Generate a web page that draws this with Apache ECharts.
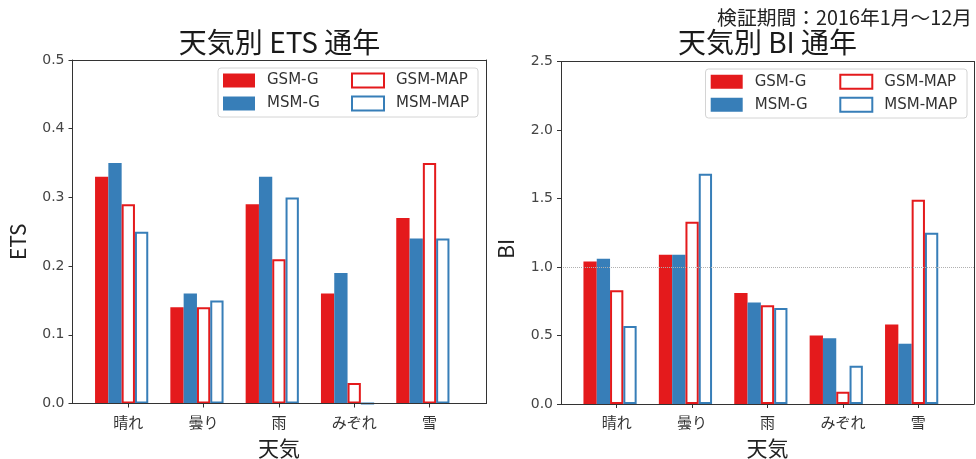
<!DOCTYPE html>
<html>
<head>
<meta charset="utf-8">
<script src="https://cdn.jsdelivr.net/npm/echarts@6/dist/echarts.min.js"></script>
<style>
  html, body { margin: 0; padding: 0; background: #fff; }
  #chart { width: 976px; height: 459px; }
</style>
</head>
<body>
<div id="chart"></div>
<script>
// Weather categories and verification scores, 2016 (Jan–Dec)
const categories = ['晴れ', '曇り', '雨', 'みぞれ', '雪'];

const etsGsmG   = [0.33, 0.14, 0.29, 0.16, 0.27];
const etsMsmG   = [0.35, 0.16, 0.33, 0.19, 0.24];
const etsGsmMap = [0.29, 0.14, 0.21, 0.03, 0.35];
const etsMsmMap = [0.25, 0.15, 0.30, 0.00, 0.24];

const biGsmG    = [1.04, 1.09, 0.81, 0.50, 0.58];
const biMsmG    = [1.06, 1.09, 0.74, 0.48, 0.44];
const biGsmMap  = [0.83, 1.33, 0.72, 0.09, 1.49];
const biMsmMap  = [0.57, 1.68, 0.70, 0.28, 1.25];

const etsTicks = [0.0, 0.1, 0.2, 0.3, 0.4, 0.5];
const biTicks  = [0.0, 0.5, 1.0, 1.5, 2.0, 2.5];
const biPerfect = 1.0;

const RED = '#e41a1c';
const BLUE = '#377eb8';
const INK = '#333';
const FONT = '"Noto Sans CJK JP", "Noto Sans", sans-serif';
const LATIN = '"DejaVu Sans", "Noto Sans CJK JP", sans-serif';
const BAR_W = 13.3;

const chart = echarts.init(document.getElementById('chart'), null, { renderer: 'canvas' });

// Each panel: an outer frame grid (spines + y axis) and an inner grid holding the bars
const panels = [
  {
    title: '天気別 ETS 通年', yName: 'ETS', ticks: etsTicks, namePad: 20,
    frame: { left: 72.5, top: 60, width: 414, height: 343.5 },
    inner: { left: 90.65, top: 60, width: 376.5, height: 343.5 },
    values: [etsGsmG, etsMsmG, etsGsmMap, etsMsmMap],
    legend: { box: [218, 68, 260, 49], col1: 223, col2: 351, top: 72.5 }
  },
  {
    title: '天気別 BI 通年', yName: 'BI', ticks: biTicks, namePad: 32,
    frame: { left: 561, top: 61.5, width: 413, height: 342.5 },
    inner: { left: 579, top: 61.5, width: 377, height: 342.5 },
    values: [biGsmG, biMsmG, biGsmMap, biMsmMap],
    legend: { box: [705.5, 69, 261.5, 49], col1: 710.7, col2: 839.3, top: 73.7 },
    refLine: biPerfect
  }
];

const seriesDefs = [
  { name: 'GSM-G',   style: { color: RED } },
  { name: 'MSM-G',   style: { color: BLUE } },
  { name: 'GSM-MAP', style: { color: '#fff', borderColor: RED, borderWidth: 2 } },
  { name: 'MSM-MAP', style: { color: '#fff', borderColor: BLUE, borderWidth: 2 } }
];

const grid = [], xAxis = [], yAxis = [], series = [], legend = [], graphic = [];

panels.forEach((p, k) => {
  const tMin = p.ticks[0];
  const tMax = p.ticks[p.ticks.length - 1];
  const tStep = p.ticks[1] - p.ticks[0];
  const gFrame = grid.length;
  grid.push(Object.assign({ containLabel: false, outerBoundsMode: 'none' }, p.frame));
  const gInner = grid.length;
  grid.push(Object.assign({ containLabel: false, outerBoundsMode: 'none' }, p.inner));

  const spine = { show: true, onZero: false, lineStyle: { color: INK, width: 1 } };

  // frame: bottom and top spines
  const xBottom = xAxis.length;
  xAxis.push({ gridIndex: gFrame, type: 'value', min: 0, max: 1, position: 'bottom',
    axisLine: spine, axisTick: { show: false }, axisLabel: { show: false }, splitLine: { show: false }, z: 5 });
  xAxis.push({ gridIndex: gFrame, type: 'value', min: 0, max: 1, position: 'top',
    axisLine: spine, axisTick: { show: false }, axisLabel: { show: false }, splitLine: { show: false }, z: 5 });
  // inner: category axis with ticks and labels
  const xCat = xAxis.length;
  xAxis.push({ gridIndex: gInner, type: 'category', data: categories, boundaryGap: true,
    axisLine: { show: false, onZero: false },
    axisTick: { show: true, alignWithLabel: true, length: 4, lineStyle: { color: INK } },
    axisLabel: { fontSize: 15, color: INK, margin: 11, fontFamily: FONT },
    name: '天気', nameLocation: 'middle', nameGap: 34,
    nameTextStyle: { fontSize: 21, color: '#222', fontFamily: FONT },
    splitLine: { show: false }, z: 5 });

  // frame: left y axis with ticks, right spine
  const yLeft = yAxis.length;
  yAxis.push({ gridIndex: gFrame, type: 'value', min: tMin, max: tMax, interval: tStep, position: 'left',
    axisLine: spine,
    axisTick: { show: true, length: 4, lineStyle: { color: INK } },
    axisLabel: { fontSize: 14, color: '#444', margin: 8, fontFamily: LATIN, formatter: v => v.toFixed(1) },
    splitLine: { show: false },
    name: p.yName, nameLocation: 'middle', nameGap: 44,
    nameTextStyle: { fontSize: 21, color: '#222', fontFamily: FONT, padding: [0, p.namePad, 0, 0] },
    z: 5 });
  yAxis.push({ gridIndex: gFrame, type: 'value', min: tMin, max: tMax, position: 'right',
    axisLine: spine, axisTick: { show: false }, axisLabel: { show: false }, splitLine: { show: false }, z: 5 });
  const yInner = yAxis.length;
  yAxis.push({ gridIndex: gInner, type: 'value', min: tMin, max: tMax, show: false, splitLine: { show: false } });

  seriesDefs.forEach((d, i) => {
    series.push({
      name: d.name, type: 'bar', xAxisIndex: xCat, yAxisIndex: yInner,
      data: p.values[i], barWidth: BAR_W, barGap: '0%',
      itemStyle: d.style, emphasis: { disabled: true }, silent: true, z: 2
    });
  });
  // empty slot so each category's third bar sits on its tick
  series.push({ name: 'slot' + k, type: 'bar', xAxisIndex: xCat, yAxisIndex: yInner,
    data: [], barWidth: BAR_W, barGap: '0%', silent: true });

  if (p.refLine !== undefined) {
    series.push({ name: 'ref' + k, type: 'line', xAxisIndex: xBottom, yAxisIndex: yLeft,
      data: [], silent: true,
      markLine: { silent: true, symbol: 'none', label: { show: false },
        lineStyle: { type: 'dotted', color: '#b0b0b0', width: 1 },
        data: [[{ coord: [0, p.refLine] }, { coord: [1, p.refLine] }]] } });
  }

  // legend: two columns inside a rounded frame
  const L = p.legend;
  graphic.push({ type: 'rect', z: 3, silent: true,
    shape: { x: L.box[0], y: L.box[1], width: L.box[2], height: L.box[3], r: 3 },
    style: { fill: 'rgba(255,255,255,0.85)', stroke: '#d4d4d4', lineWidth: 1 } });
  const legendBase = {
    orient: 'vertical', top: L.top, padding: 0, itemGap: 7, itemWidth: 32, itemHeight: 14,
    icon: 'rect', selectedMode: false, z: 6,
    textStyle: { fontSize: 15, lineHeight: 16, color: INK, fontFamily: LATIN, padding: [0, 0, 0, 7] }
  };
  legend.push(Object.assign({}, legendBase, { left: L.col1,
    data: [seriesDefs[0], seriesDefs[1]].map(d => ({ name: d.name, itemStyle: d.style })) }));
  legend.push(Object.assign({}, legendBase, { left: L.col2,
    data: [seriesDefs[2], seriesDefs[3]].map(d => ({ name: d.name, itemStyle: d.style })) }));

  // panel title
  graphic.push({ type: 'text', z: 6, silent: true,
    x: p.frame.left + p.frame.width / 2, y: 42.5,
    style: { text: p.title, fill: '#1a1a1a', font: '28px ' + FONT, textAlign: 'center', textVerticalAlign: 'middle' } });
});

// verification period note
graphic.push({ type: 'text', z: 6, silent: true, x: 972, y: 17,
  style: { text: '検証期間：2016年1月～12月', fill: '#222', font: '19.8px ' + FONT, textAlign: 'right', textVerticalAlign: 'middle' } });

chart.setOption({
  animation: false,
  backgroundColor: '#fff',
  grid, xAxis, yAxis, series, legend, graphic
});
</script>
</body>
</html>
